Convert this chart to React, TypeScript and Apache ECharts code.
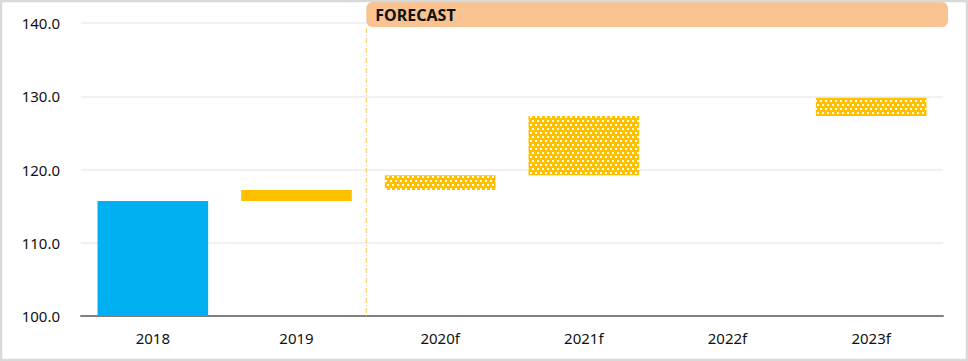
import React, { useEffect, useRef } from 'react';
import * as echarts from 'echarts';

const categories = ['2018', '2019', '2020f', '2021f', '2022f', '2023f'];
const rangeLow: (number | null)[] = [100, 115.7, 117.2, 119.2, null, 127.3];
const rangeHigh: (number | null)[] = [115.7, 117.2, 119.2, 127.3, null, 129.8];
const barKind = ['actual', 'estimate', 'forecast', 'forecast', 'forecast', 'forecast'];
const yMin = 100;
const yMax = 140;
const yInterval = 10;
const forecastLabel = 'FORECAST';
const forecastStartIndex = 2;

const BLUE = '#00B0F0';
const YELLOW = '#FFC000';
const FONT = '"Noto Sans", sans-serif';

export default function App() {
  const ref = useRef<HTMLDivElement>(null);

  useEffect(() => {
    if (!ref.current) return;
    const chart = echarts.init(ref.current, undefined, { renderer: 'svg' });

    const baseData = rangeLow.map((v) => (v == null ? '-' : v));
    const deltaData = rangeLow.map((lo, i) => {
      const hi = rangeHigh[i];
      if (lo == null || hi == null) return '-';
      const kind = barKind[i];
      const itemStyle: any = { color: kind === 'actual' ? BLUE : YELLOW };
      if (kind === 'forecast') {
        itemStyle.decal = {
          symbol: 'rect',
          symbolSize: 1,
          color: 'rgba(255,255,255,0.95)',
          dashArrayX: [[1.3, 2.7], [0, 2, 1.3, 0.7]],
          dashArrayY: [1.3, 1.2],
          rotation: 0,
        };
      }
      return { value: +(hi - lo).toFixed(2), itemStyle };
    });

    chart.setOption({
      animation: false,
      grid: { left: 81, right: 25, top: 23, bottom: 45, containLabel: false },
      xAxis: {
        type: 'category',
        data: categories,
        axisLine: { lineStyle: { color: '#808080', width: 2 } },
        axisTick: { show: false },
        axisLabel: { color: '#111', fontFamily: FONT, fontSize: 15, margin: 14 },
      },
      yAxis: {
        type: 'value',
        min: yMin,
        max: yMax,
        interval: yInterval,
        axisLine: { show: false },
        axisTick: { show: false },
        splitLine: { lineStyle: { color: '#EDEDED', width: 1.5 } },
        axisLabel: {
          color: '#111',
          fontFamily: FONT,
          fontSize: 15,
          margin: 21,
          formatter: (v: number) => v.toFixed(1),
        },
      },
      series: [
        {
          type: 'bar',
          stack: 'w',
          data: baseData,
          itemStyle: { color: 'transparent' },
          barCategoryGap: '23%',
          silent: true,
        },
        {
          type: 'bar',
          stack: 'w',
          data: deltaData,
          barCategoryGap: '23%',
        },
      ],
    });

    const xA = chart.convertToPixel({ xAxisIndex: 0 }, categories[forecastStartIndex - 1]) as number;
    const xB = chart.convertToPixel({ xAxisIndex: 0 }, categories[forecastStartIndex]) as number;
    const xMid = (xA + xB) / 2 - 2;
    const yTop = chart.convertToPixel({ yAxisIndex: 0 }, yMax) as number;
    const yBottom = chart.convertToPixel({ yAxisIndex: 0 }, yMin) as number;
    const w = chart.getWidth();
    const h = chart.getHeight();

    chart.setOption({
      graphic: [
        {
          type: 'rect',
          shape: { x: 1, y: 1, width: w - 2, height: h - 2 },
          style: { fill: 'none', stroke: '#D9D9D9', lineWidth: 2.5 },
          z: 10,
        },
        {
          type: 'rect',
          shape: { x: xMid, y: 2, width: w - 20 - xMid, height: yTop + 4 - 2, r: 6 },
          style: { fill: '#F8C291' },
          z: 5,
        },
        {
          type: 'text',
          x: xMid + 9,
          y: (yTop + 6) / 2,
          style: {
            text: forecastLabel,
            font: `bold 16px ${FONT}`,
            fill: '#111',
            verticalAlign: 'middle',
            align: 'left',
          },
          z: 6,
        },
        {
          type: 'line',
          shape: { x1: xMid, y1: yTop + 5, x2: xMid, y2: yBottom + 2 },
          style: { stroke: '#F9BE3C', opacity: 0.85, lineWidth: 1, lineDash: [5, 2, 1, 2] },
          z: 5,
        },
      ],
    });

    return () => chart.dispose();
  }, []);

  return (
    <div
      ref={ref}
      style={{ position: 'fixed', left: 0, top: 0, width: 968, height: 361, background: '#fff' }}
    />
  );
}
